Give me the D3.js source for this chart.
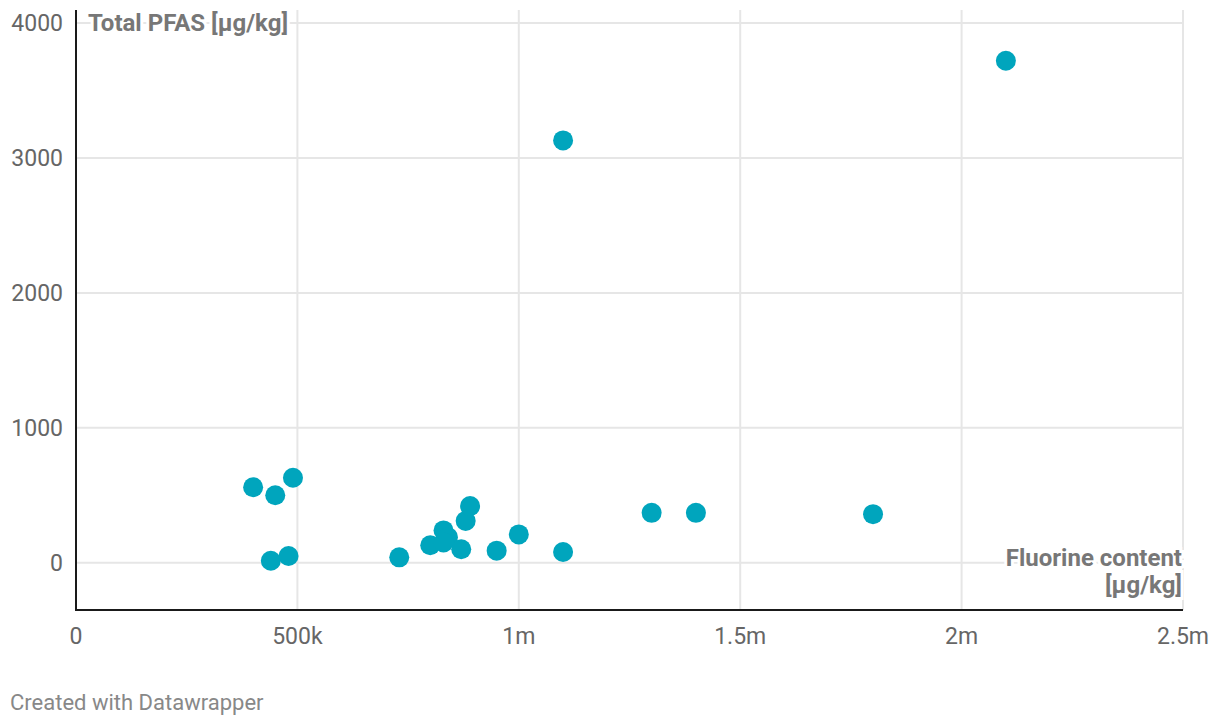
<!DOCTYPE html>
<html>
<head>
<meta charset="utf-8">
<script src="https://cdn.jsdelivr.net/npm/d3@7"></script>
<style>
  body { margin: 0; background: #fff; font-family: Roboto, sans-serif; }
</style>
</head>
<body>
<svg id="chart" width="1220" height="728"></svg>
<script>
const width = 1220;
const height = 728;

// Fluorine content vs total PFAS, both in µg/kg
const fluorine = [400000, 450000, 490000, 440000, 480000, 730000, 800000, 830000, 840000, 830000,
                  870000, 880000, 890000, 950000, 1000000, 1100000, 1100000, 1300000, 1400000, 1800000, 2100000];
const pfas = [560, 500, 630, 15, 50, 40, 130, 240, 190, 150,
              100, 310, 420, 90, 210, 80, 3130, 370, 370, 360, 3720];
const xTicks = [0, 500000, 1000000, 1500000, 2000000, 2500000];
const xTickLabels = ["0", "500k", "1m", "1.5m", "2m", "2.5m"];
const yTicks = [0, 1000, 2000, 3000, 4000];

const margin = {left: 76, right: 37, top: 10, bottom: 118};

const svg = d3.select("#chart");

const x = d3.scaleLinear()
    .domain([0, 2500000])
    .range([margin.left, width - margin.right]);

const y = d3.scaleLinear()
    .domain([-350, 4000])
    .range([610, 23]);

// Grid lines
svg.append("g")
    .selectAll("line")
    .data(yTicks)
    .join("line")
    .attr("x1", margin.left)
    .attr("x2", x(2500000))
    .attr("y1", d => y(d))
    .attr("y2", d => y(d))
    .attr("stroke", "#e6e6e6")
    .attr("stroke-width", 2);

svg.append("g")
    .selectAll("line")
    .data(xTicks.slice(1))
    .join("line")
    .attr("x1", d => x(d))
    .attr("x2", d => x(d))
    .attr("y1", margin.top)
    .attr("y2", y(-350))
    .attr("stroke", "#e6e6e6")
    .attr("stroke-width", 2);

// Axis lines
svg.append("line")
    .attr("x1", margin.left).attr("x2", margin.left)
    .attr("y1", margin.top).attr("y2", y(-350) + 1)
    .attr("stroke", "#1a1a1a").attr("stroke-width", 2);

svg.append("line")
    .attr("x1", margin.left).attr("x2", x(2500000))
    .attr("y1", y(-350)).attr("y2", y(-350))
    .attr("stroke", "#1a1a1a").attr("stroke-width", 2);

// Tick labels
svg.append("g")
    .selectAll("text")
    .data(yTicks)
    .join("text")
    .attr("x", 63)
    .attr("y", d => y(d))
    .attr("dy", "0.35em")
    .attr("text-anchor", "end")
    .attr("font-size", "23px")
    .attr("fill", "#666")
    .text(d => d);

svg.append("g")
    .selectAll("text")
    .data(xTicks)
    .join("text")
    .attr("x", d => x(d))
    .attr("y", 636)
    .attr("dy", "0.35em")
    .attr("text-anchor", "middle")
    .attr("font-size", "23px")
    .attr("fill", "#666")
    .text((d, i) => xTickLabels[i]);

// Axis titles with white halo
svg.append("text")
    .attr("x", 88)
    .attr("y", 23)
    .attr("dy", "0.33em")
    .attr("font-size", "24px")
    .attr("font-weight", "bold")
    .attr("fill", "#777")
    .attr("stroke", "#fff")
    .attr("stroke-width", 6)
    .attr("paint-order", "stroke")
    .text("Total PFAS [µg/kg]");

const xTitle = svg.append("text")
    .attr("text-anchor", "end")
    .attr("font-size", "24px")
    .attr("font-weight", "bold")
    .attr("fill", "#777")
    .attr("stroke", "#fff")
    .attr("stroke-width", 6)
    .attr("paint-order", "stroke");

xTitle.append("tspan").attr("x", 1182).attr("y", 566).text("Fluorine content");
xTitle.append("tspan").attr("x", 1182).attr("y", 593).text("[µg/kg]");

// Points
svg.append("g")
    .selectAll("circle")
    .data(fluorine.map((f, i) => ({f: f, p: pfas[i]})))
    .join("circle")
    .attr("cx", d => x(d.f))
    .attr("cy", d => y(d.p))
    .attr("r", 10)
    .attr("fill", "#00a5bd");

// Footer
svg.append("text")
    .attr("x", 10)
    .attr("y", 710)
    .attr("font-size", "22px")
    .attr("fill", "#888")
    .text("Created with Datawrapper");
</script>
</body>
</html>
